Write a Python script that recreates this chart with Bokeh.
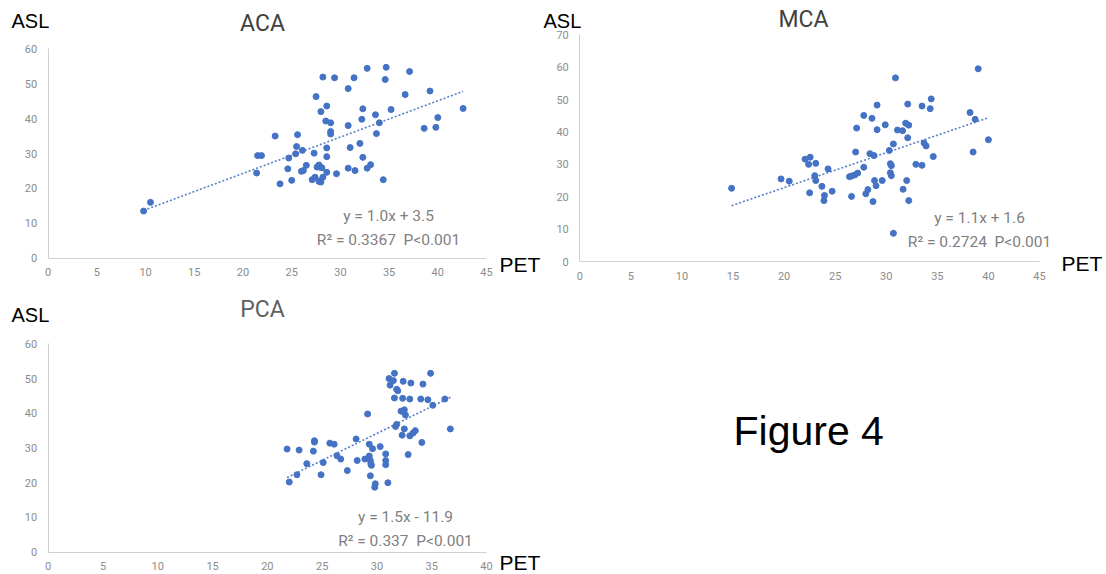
from bokeh.plotting import figure
from bokeh.models import Range1d, Label, LinearAxis, SingleIntervalTicker
from bokeh.layouts import column, row
from bokeh.embed import file_html
from bokeh.resources import INLINE

# ---------------- data ----------------
aca_pet = [9.8, 10.5, 21.4, 21.5, 21.9, 23.3, 23.8, 24.7, 25.0, 24.6, 25.4, 25.5, 25.6, 26.1, 26.0, 26.2, 26.5,
           27.3, 27.1, 27.4, 27.5, 27.6, 27.8, 27.9, 28.1, 27.8, 28.0, 28.2, 28.0, 28.2, 28.5, 28.6, 28.6, 28.6,
           28.6, 29.0, 29.0, 29.0, 29.4, 29.6, 30.8, 30.8, 31.0, 30.8, 31.4, 31.5, 32.0, 32.2, 32.3, 32.3, 32.75,
           32.75, 33.1, 33.6, 33.7, 34.0, 34.4, 34.6, 34.7, 35.2, 36.65, 37.1, 38.6, 39.2, 39.8, 40.0, 42.6]
aca_asl = [13.5, 16.0, 24.4, 29.4, 29.4, 35.0, 21.3, 28.7, 22.3, 25.6, 29.9, 32.0, 35.4, 30.9, 24.9, 25.1, 26.6,
           30.1, 22.5, 23.2, 46.3, 26.1, 26.7, 26.1, 25.9, 22.0, 21.8, 51.9, 42.0, 23.2, 39.3, 43.6, 31.6, 29.1,
           24.6, 38.8, 35.6, 36.3, 51.7, 24.2, 48.6, 38.0, 31.7, 25.8, 51.7, 25.1, 32.9, 39.8, 42.8, 28.9, 54.4,
           25.8, 26.8, 41.1, 35.7, 38.8, 22.5, 51.2, 54.7, 42.6, 46.9, 53.5, 37.2, 47.9, 37.5, 40.3, 42.9]
aca_fit = [1.04, 3.5]
aca_eq = ["y = 1.0x + 3.5", "R\u00b2 = 0.3367\u00a0\u00a0P<0.001"]

mca_pet = [14.86, 19.7, 20.5, 22.05, 22.55, 22.4, 23.1, 22.5, 23.0, 23.1, 23.7, 23.95, 23.9, 24.3, 24.7, 26.4,
           26.6, 26.9, 27.2, 26.6, 27.0, 27.1, 27.8, 27.8, 28.0, 28.2, 28.4, 28.6, 28.8, 28.7, 28.85, 29.0, 29.1,
           29.1, 29.6, 29.9, 30.3, 30.4, 30.5, 30.4, 30.5, 30.7, 30.7, 30.9, 31.1, 31.6, 31.65, 31.9, 32.0, 32.1,
           32.1, 32.2, 32.2, 32.9, 33.5, 33.5, 33.7, 33.9, 34.3, 34.4, 34.6, 38.2, 38.5, 38.7, 39.0, 40.0]
mca_asl = [22.6, 25.5, 24.8, 31.6, 32.2, 30.0, 30.3, 21.2, 26.5, 25.0, 23.2, 20.4, 18.8, 28.6, 21.7, 26.2,
           26.4, 26.7, 27.3, 20.1, 33.8, 41.2, 45.1, 29.1, 20.9, 22.2, 33.3, 44.2, 32.7, 18.5, 25.0, 23.4, 40.7,
           48.3, 25.0, 42.2, 34.3, 30.2, 29.6, 27.4, 26.5, 36.3, 8.7, 56.7, 40.6, 40.4, 22.3, 42.7, 25.0, 48.6,
           38.2, 42.1, 18.8, 30.0, 48.0, 29.7, 36.6, 35.7, 47.2, 50.2, 32.4, 46.0, 33.8, 43.9, 59.5, 37.6]
mca_fit = [1.08, 1.2]
mca_eq = ["y = 1.1x + 1.6", "R\u00b2 = 0.2724\u00a0\u00a0P<0.001"]

pca_pet = [21.8, 22.0, 22.7, 22.9, 23.6, 24.2, 24.3, 24.3, 24.9, 25.1, 25.7, 26.1, 26.35, 26.7, 27.3, 28.1,
           28.2, 28.9, 29.15, 29.3, 29.3, 29.4, 29.45, 29.5, 29.4, 29.6, 29.85, 29.8, 30.3, 30.8, 30.8, 30.8,
           31.0, 31.1, 31.2, 31.5, 31.6, 31.6, 31.7, 31.8, 31.8, 31.9, 32.3, 32.2, 32.4, 32.35, 32.5, 32.5, 32.6,
           32.85, 33.0, 33.1, 33.0, 33.3, 33.5, 34.0, 34.1, 34.2, 34.65, 34.9, 35.1, 36.2, 36.7]
pca_asl = [29.7, 20.2, 22.3, 29.4, 25.5, 29.1, 32.1, 31.7, 22.3, 25.8, 31.4, 31.1, 27.8, 26.8, 23.5, 32.6,
           26.4, 26.8, 39.8, 31.1, 27.7, 26.4, 25.4, 25.0, 22.0, 29.8, 19.7, 18.7, 30.4, 28.3, 26.4, 25.2,
           20.0, 50.0, 48.1, 49.4, 51.5, 44.4, 36.2, 36.8, 46.9, 46.5, 33.7, 40.6, 49.2, 44.3, 35.5, 41.0, 39.5,
           28.1, 33.5, 48.7, 44.1, 34.3, 35.0, 44.1, 31.6, 48.4, 43.9, 51.5, 42.3, 44.1, 35.5]
pca_fit = [1.55, -12.3]
pca_eq = ["y = 1.5x - 11.9", "R\u00b2 = 0.337\u00a0\u00a0P<0.001"]

x_label = "PET"
y_label = "ASL"
fig_label = "Figure 4"

# ---------------- styling ----------------
BLUE = "#4472C4"
TICK_COLOR = "#8c8c8c"
AXIS_COLOR = "#d0d0d0"
EQ_COLOR = "#808080"
SANS = "Liberation Sans"
THIN = "Roboto"


class Panel:
    """A figure whose frame fills the whole canvas; axes sit at data 0 inside it."""

    def __init__(self, left, top, width, height, ox, oy, xend_px, yend_px, xmax, ymax):
        self.sx = (xend_px - ox) / xmax      # px per x unit
        self.sy = (oy - yend_px) / ymax      # px per y unit
        self.ox, self.oy = ox, oy
        x0 = (left - ox) / self.sx
        x1 = (left + width - ox) / self.sx
        y0 = (oy - (top + height)) / self.sy
        y1 = (oy - top) / self.sy
        p = figure(width=width, height=height, x_range=Range1d(x0, x1), y_range=Range1d(y0, y1),
                   output_backend="svg", toolbar_location=None, title=None,
                   x_axis_location=None, y_axis_location=None,
                   min_border_left=0, min_border_right=0, min_border_top=0, min_border_bottom=0)
        p.outline_line_color = None
        p.grid.visible = False
        p.background_fill_color = "white"
        p.border_fill_color = "white"
        xaxis = LinearAxis(fixed_location=0, bounds=(0, xmax), ticker=SingleIntervalTicker(interval=5))
        yaxis = LinearAxis(fixed_location=0, bounds=(0, ymax), ticker=SingleIntervalTicker(interval=10))
        for ax in (xaxis, yaxis):
            ax.axis_line_color = AXIS_COLOR
            ax.axis_line_width = 1
            ax.major_tick_line_color = None
            ax.minor_tick_line_color = None
            ax.major_tick_out = 0
            ax.major_tick_in = 0
            ax.minor_tick_out = 0
            ax.minor_tick_in = 0
            ax.major_label_text_color = TICK_COLOR
            ax.major_label_text_font = THIN
            ax.major_label_text_font_size = "11px"
        xaxis.major_label_standoff = 10
        yaxis.major_label_standoff = 11
        p.add_layout(xaxis, "below")
        p.add_layout(yaxis, "left")
        self.p = p

    def dx(self, px):
        return (px - self.ox) / self.sx

    def dy(self, py):
        return (self.oy - py) / self.sy

    def text(self, px, py, txt, size, color, font=SANS, align="left", baseline="middle"):
        self.p.add_layout(Label(x=self.dx(px), y=self.dy(py), text=txt, text_font=font,
                                text_font_size=size, text_color=color, text_align=align,
                                text_baseline=baseline))


def fill(panel, xs, ys, fit, eq, title, title_color, title_y, asl_y, pet, eq_xy):
    p = panel.p
    x0, x1 = min(xs), max(xs)
    p.line([x0, x1], [fit[0] * x0 + fit[1], fit[0] * x1 + fit[1]], line_color=BLUE, line_width=1.6,
           line_dash="2 2", line_alpha=0.9)
    p.scatter(xs, ys, size=6, fill_color=BLUE, line_color=BLUE)
    panel.text(title_y[0], title_y[1], title, "23px", title_color, font=THIN, align="center")
    panel.text(asl_y[0], asl_y[1], y_label, "20px", "black")
    panel.text(pet[0], pet[1], x_label, "21px", "black", baseline=pet[2])
    panel.text(eq_xy[0], eq_xy[1], eq[0], "15.5px", EQ_COLOR, font=THIN, align="center")
    panel.text(eq_xy[0], eq_xy[1] + 24, eq[1], "15.5px", EQ_COLOR, font=THIN, align="center")


A = Panel(0, 0, 541, 290, 47.7, 257.7, 486, 48.3, 45, 60)
fill(A, aca_pet, aca_asl, aca_fit, aca_eq, "ACA", "#404040", (262, 23), (11, 20.3),
     (499, 263.5, "middle"), (388, 215))

B = Panel(541, 0, 565, 290, 579.3, 261, 1039, 34.3, 45, 70)
fill(B, mca_pet, mca_asl, mca_fit, mca_eq, "MCA", "#404040", (803, 18.5), (543, 20.5),
     (1061, 262.5, "middle"), (979, 217))

C = Panel(0, 290, 541, 284, 47.7, 551.7, 486, 343.3, 40, 60)
fill(C, pca_pet, pca_asl, pca_fit, pca_eq, "PCA", "#606060", (262, 308.5), (11, 314),
     (499, 573.5, "bottom"), (405, 516))

D = figure(width=565, height=284, x_range=Range1d(0, 565), y_range=Range1d(0, 284),
           output_backend="svg", toolbar_location=None, title=None,
           x_axis_location=None, y_axis_location=None,
           min_border_left=0, min_border_right=0, min_border_top=0, min_border_bottom=0)
D.grid.visible = False
D.outline_line_color = None
D.add_layout(Label(x=733 - 541, y=574 - 430, text=fig_label, text_font=SANS, text_font_size="41px",
                   text_color="black", text_align="left", text_baseline="middle"))

layout = column(row(A.p, B.p, spacing=0), row(C.p, D, spacing=0), spacing=0)
open("out.html", "w").write(file_html(layout, INLINE))
